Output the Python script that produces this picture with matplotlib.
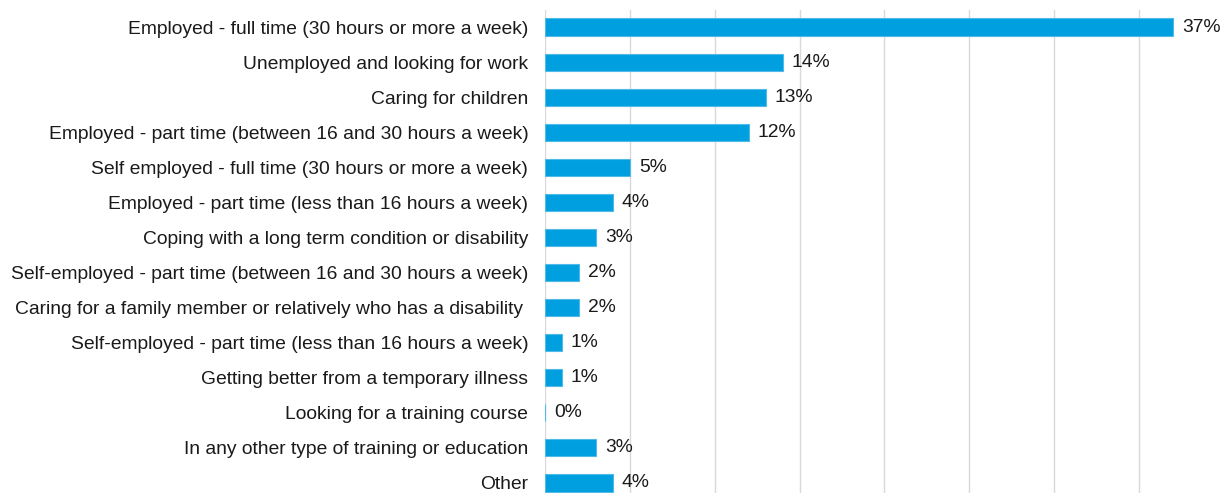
import matplotlib
matplotlib.use("Agg")
import matplotlib.pyplot as plt

categories = [
    "Employed - full time (30 hours or more a week)",
    "Unemployed and looking for work",
    "Caring for children",
    "Employed - part time (between 16 and 30 hours a week)",
    "Self employed - full time (30 hours or more a week)",
    "Employed - part time (less than 16 hours a week)",
    "Coping with a long term condition or disability",
    "Self-employed - part time (between 16 and 30 hours a week)",
    "Caring for a family member or relatively who has a disability ",
    "Self-employed - part time (less than 16 hours a week)",
    "Getting better from a temporary illness",
    "Looking for a training course",
    "In any other type of training or education",
    "Other",
]
values = [37, 14, 13, 12, 5, 4, 3, 2, 2, 1, 1, 0, 3, 4]
grid_ticks = [0, 5, 10, 15, 20, 25, 30, 35]

plt.rcParams["font.family"] = ["Liberation Sans", "DejaVu Sans"]

W, H = 1221, 493
fig = plt.figure(figsize=(W / 100, H / 100), dpi=100)
fig.patch.set_facecolor("white")

ax = fig.add_axes([545 / W, (H - 500.5) / H, (W - 545) / W, (500.5 - 9.5) / H])

ypos = list(range(len(categories)))
ax.barh(ypos, values, height=0.49, color="#009FDF", edgecolor="#4FB9E8",
        linewidth=0.8, zorder=3)

ax.set_xlim(0, (W - 545) / 16.97)
ax.set_ylim(len(categories) - 0.5, -0.5)

ax.set_xticks(grid_ticks)
ax.xaxis.grid(True, color="#D9D9D9", linewidth=1.0, zorder=0)
ax.tick_params(axis="x", length=0, labelbottom=False)
ax.tick_params(axis="y", length=0, pad=12, labelsize=13.9, labelcolor="#1a1a1a")
ax.set_yticks(ypos)
ax.set_yticklabels(categories)

for s in ax.spines.values():
    s.set_visible(False)

for y, v in zip(ypos, values):
    ax.annotate(f"{v}%", xy=(v, y), xytext=(6.5, 0), textcoords="offset points",
                va="center", ha="left", fontsize=13.9, color="#1a1a1a", zorder=4)

fig.savefig("out.png", dpi=100, facecolor="white")
